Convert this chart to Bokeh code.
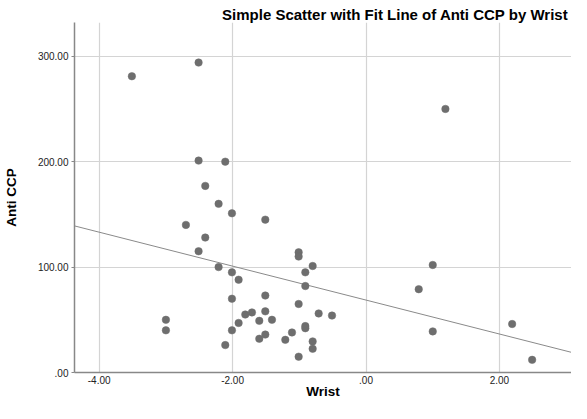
from bokeh.plotting import figure
from bokeh.models import FixedTicker, CustomJSTickFormatter, Range1d
from bokeh.embed import file_html
from bokeh.resources import INLINE

# Data
wrist = [-2.51, -3.51, -2.51, -2.11, -2.41, 1.19, -2.21, -2.01, -1.51, -2.70,
         -2.41, -2.51, -2.21, -2.01, -1.91, -2.01, -1.51, -3.00, -3.00, -1.81,
         -1.71, -1.51, -1.60, -1.41, -1.91, -2.01, -1.51, -1.60, -1.21, -1.11,
         -2.11, -1.01, -1.01, -0.80, -0.91, -0.91, 1.00, 0.79, -1.01, -0.71,
         -0.51, -0.91, -0.91, -0.80, -0.80, -1.01, 1.00, 2.19, 2.49]
anti_ccp = [294, 281, 201, 200, 177, 250, 160, 151, 145, 140,
            128, 115, 100, 95, 88, 70, 73, 50, 40, 55,
            57, 58, 49, 50, 47, 40, 36, 32, 31, 38,
            26, 114, 110, 101, 95, 82, 102, 79, 65, 56,
            54, 44, 42, 29.5, 22.5, 15, 39, 46, 12]
fit_intercept = 68.7
fit_slope = -16.1
x_ticks = [-4, -2, 0, 2]
y_ticks = [0, 100, 200, 300]
x_min, x_max = -4.37, 3.08
y_min, y_max = 0, 332
x_label_text = "Wrist"
y_label_text = "Anti CCP"
title_text = "Simple Scatter with Fit Line of Anti CCP by Wrist"

FONT = "Liberation Sans"

p = figure(width=571, height=403, output_backend="svg", toolbar_location=None,
           x_range=Range1d(x_min, x_max), y_range=Range1d(y_min, y_max),
           min_border_left=69, min_border_top=22, min_border_right=0, min_border_bottom=31)

p.title.text = title_text
p.title.text_font = FONT
p.title.text_font_size = "15px"
p.title.text_font_style = "bold"
p.title.text_color = "#000000"
p.title.align = "right"
p.title.vertical_align = "bottom"
p.title.offset = 3
p.title.standoff = 0

p.outline_line_color = None
p.background_fill_color = "white"
p.border_fill_color = "white"

fmt = CustomJSTickFormatter(code="""
let s = tick.toFixed(2);
return s.replace(/^(-?)0\\./, '$1.');
""")

for ax in (p.xaxis[0], p.yaxis[0]):
    ax.formatter = fmt
    ax.axis_line_color = "#888888"
    ax.axis_line_width = 1.5
    ax.major_tick_line_color = "#888888"
    ax.minor_tick_line_color = None
    ax.major_tick_in = 0
    ax.major_label_text_font = FONT
    ax.major_label_text_font_size = "10px"
    ax.major_label_text_color = "#222222"
    ax.axis_label_text_font = FONT
    ax.axis_label_text_font_style = "bold"
    ax.axis_label_text_color = "#000000"

p.xaxis[0].ticker = FixedTicker(ticks=x_ticks)
p.yaxis[0].ticker = FixedTicker(ticks=y_ticks)
p.xaxis[0].major_tick_out = 0
p.yaxis[0].major_tick_out = 3
p.xaxis[0].major_label_standoff = 3
p.yaxis[0].major_label_standoff = 3
p.xaxis[0].axis_label = x_label_text
p.yaxis[0].axis_label = y_label_text
p.xaxis[0].axis_label_text_font_size = "13.5px"
p.yaxis[0].axis_label_text_font_size = "13.5px"
p.xaxis[0].axis_label_standoff = -3
p.yaxis[0].axis_label_standoff = 16

p.xgrid[0].ticker = FixedTicker(ticks=x_ticks)
p.ygrid[0].ticker = FixedTicker(ticks=[t for t in y_ticks if t > 0])
p.xgrid.grid_line_color = "#d4d4d4"
p.ygrid.grid_line_color = "#d4d4d4"
p.xgrid.grid_line_width = 1.2
p.ygrid.grid_line_width = 1.2

# Fit line
fx = [x_min, x_max]
fy = [fit_intercept + fit_slope * v for v in fx]
p.line(fx, fy, line_color="#8a8a8a", line_width=1)

p.scatter(wrist, anti_ccp, size=7.5, fill_color="#6e6e6e", line_color="#6e6e6e", line_width=0.5)

open("out.html", "w").write(file_html(p, INLINE))
